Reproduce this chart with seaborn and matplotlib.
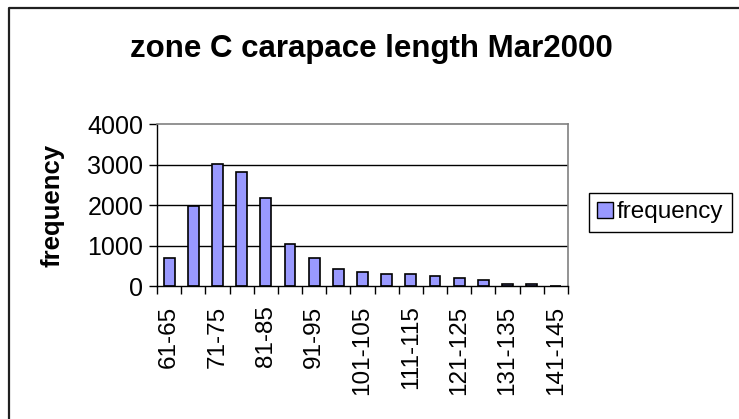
import matplotlib
matplotlib.use('Agg')
import matplotlib.pyplot as plt
import seaborn as sns
from matplotlib.lines import Line2D
from matplotlib.patches import Patch

categories = ['61-65', '66-70', '71-75', '76-80', '81-85', '86-90', '91-95', '96-100',
              '101-105', '106-110', '111-115', '116-120', '121-125', '126-130',
              '131-135', '136-140', '141-145']
frequency = [690, 1980, 3010, 2820, 2170, 1030, 690, 430, 340, 290, 290, 240, 190, 140,
             50, 50, 0]

sns.set_style('white')
plt.rcParams['font.family'] = ['Liberation Sans', 'DejaVu Sans']
plt.rcParams.update({'text.color': 'black', 'axes.labelcolor': 'black',
                     'xtick.color': 'black', 'ytick.color': 'black'})

fig = plt.figure(figsize=(7.39, 4.19), dpi=100)
ax = fig.add_axes([0.2125, 0.3174, 0.556, 0.3866])

sns.barplot(x=categories, y=frequency, color='#9999FF', edgecolor='black',
            linewidth=1.2, width=0.45, saturation=1, ax=ax)

ax.set_ylim(0, 4000)
ax.set_xlim(-0.5, len(categories) - 0.5)
ax.set_yticks([0, 1000, 2000, 3000, 4000])
ax.set_yticklabels(['0', '1000', '2000', '3000', '4000'], fontsize=18)
for y in [1000, 2000, 3000]:
    ax.axhline(y, color='black', linewidth=1, zorder=0)

# labels at centres of every other bar, tick marks at category boundaries
ax.set_xticks(range(0, len(categories), 2))
ax.set_xticklabels(categories[::2], rotation=90, fontsize=17.5)
ax.tick_params(axis='x', which='major', length=0, pad=14)
ax.set_xticks([i - 0.5 for i in range(len(categories) + 1)], minor=True)
ax.tick_params(axis='x', which='minor', length=6, width=1, direction='out', bottom=True)
ax.tick_params(axis='y', length=6, width=1, direction='out', left=True, pad=4)

ax.set_xlabel('')
ax.set_ylabel('frequency', fontsize=18.5, fontweight='bold', labelpad=16)

for s in ['left', 'bottom']:
    ax.spines[s].set_color('black')
    ax.spines[s].set_linewidth(1)
for s in ['top', 'right']:
    ax.spines[s].set_color('#808080')
    ax.spines[s].set_linewidth(1.2)

fig.suptitle('zone C carapace length Mar2000', fontsize=22.5, fontweight='bold',
             x=0.502, y=0.92)

handle = Patch(facecolor='#9999FF', edgecolor='black', linewidth=1)
fig.legend([handle], ['frequency'], loc='upper left', bbox_to_anchor=(0.797, 0.54),
           fontsize=17.5, frameon=True, fancybox=False, edgecolor='black',
           handlelength=0.65, handleheight=0.65, handletextpad=0.15, borderpad=0.35,
           borderaxespad=0, framealpha=1)

# chart area frame, left and top edges only are inside the picture
fig.lines.append(Line2D([0.0122, 0.0122, 1.0], [0.0, 0.981, 0.981],
                        transform=fig.transFigure, color='#202020', linewidth=1.6))

fig.savefig('out.png', dpi=100)
